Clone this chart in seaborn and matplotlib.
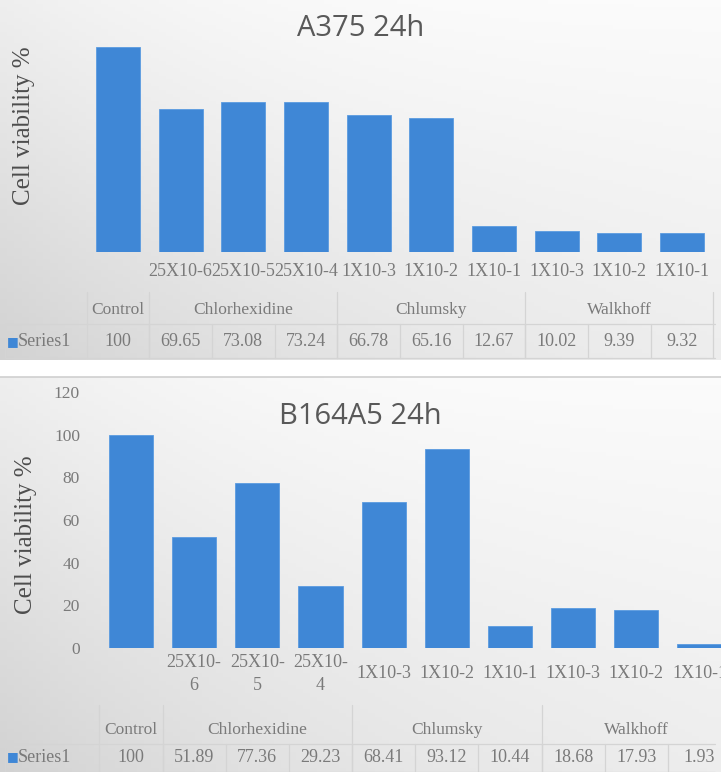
import numpy as np
import pandas as pd
import matplotlib
matplotlib.use("Agg")
import matplotlib.pyplot as plt
import matplotlib.transforms as mtrans
import seaborn as sns

sns.set_theme(style="white")
plt.rcParams['font.family'] = ['Liberation Serif', 'DejaVu Serif']

W, H = 721, 772

# data
groups = ["Control", "Chlorhexidine", "Chlumsky", "Walkhoff"]
group_cols = [(0, 0), (1, 3), (4, 6), (7, 9)]
doses_a375 = ["", "25X10-6", "25X10-5", "25X10-4", "1X10-3", "1X10-2", "1X10-1",
              "1X10-3", "1X10-2", "1X10-1"]
doses_b164 = ["", "25X10-\n6", "25X10-\n5", "25X10-\n4", "1X10-3", "1X10-2", "1X10-1",
              "1X10-3", "1X10-2", "1X10-1"]
viab_a375 = [100, 69.65, 73.08, 73.24, 66.78, 65.16, 12.67, 10.02, 9.39, 9.32]
viab_b164 = [100, 51.89, 77.36, 29.23, 68.41, 93.12, 10.44, 18.68, 17.93, 1.93]

BLUE = "#3f87d6"
GREY = "#7a7a7a"
LINE = "#d4d4d4"

fig = plt.figure(figsize=(W / 100, H / 100), dpi=100)
fig.patch.set_facecolor("white")


def box(x0, y0, x1, y1):
    return [x0 / W, 1 - y1 / H, (x1 - x0) / W, (y1 - y0) / H]


# background in pixel coordinates
bg = fig.add_axes([0, 0, 1, 1])
bg.set_xlim(0, W)
bg.set_ylim(H, 0)
bg.axis("off")


def shade(y0, y1):
    yy, xx = np.mgrid[0:1:100j, 0:1:100j]
    g = 0.985 - 0.11 * yy * (1 - 0.5 * xx) - 0.05 * (1 - xx) ** 3
    img = np.dstack([g, g, g])
    bg.imshow(img, extent=[0, W, y1, y0], aspect="auto", zorder=0)


shade(0, 360)
shade(377, 772)
bg.plot([0, W], [377, 377], color="#cfcfcf", lw=1.2)
bg.set_xlim(0, W)
bg.set_ylim(H, 0)


def panel(ax, values, doses, title, title_y, ylab_xy, xlim, ylim,
          cat_y, grp_y, val_y, grid_top, row_line, tbl_bottom):
    df = pd.DataFrame({"slot": [f"c{i}" for i in range(len(values))], "value": values})
    sns.barplot(data=df, x="slot", y="value", color=BLUE, saturation=1,
                width=0.7, ax=ax, edgecolor="#5b9be0", linewidth=0.6)
    ax.set_xlim(*xlim)
    ax.set_ylim(*ylim)
    ax.patch.set_alpha(0)
    ax.set_xlabel("")
    ax.set_ylabel("")
    ax.set_xticks([])
    sns.despine(ax=ax, left=True, bottom=True)

    tr = mtrans.blended_transform_factory(ax.transData, bg.transData)
    n = len(values)
    for i, d in enumerate(doses):
        ax.text(i, cat_y, d, transform=tr, ha="center", va="center",
                fontsize=13, color=GREY, linespacing=1.5)
    for name, (a, b) in zip(groups, group_cols):
        ax.text((a + b) / 2, grp_y, name, transform=tr, ha="center", va="center",
                fontsize=12.5, color=GREY)
    for i, v in enumerate(values):
        ax.text(i, val_y, f"{v:g}", transform=tr, ha="center", va="center",
                fontsize=13, color=GREY)
    # table lines
    for a, b in group_cols:
        ax.plot([a - 0.5, a - 0.5], [grid_top, tbl_bottom], transform=tr,
                color=LINE, lw=0.9, clip_on=False)
    ax.plot([n - 0.5, n - 0.5], [grid_top, tbl_bottom], transform=tr,
            color=LINE, lw=0.9, clip_on=False)
    for i in range(n - 1):
        ax.plot([i + 0.5, i + 0.5], [row_line, tbl_bottom], transform=tr,
                color=LINE, lw=0.9, clip_on=False)
    bg.plot([5, W - 6], [row_line, row_line], color=LINE, lw=0.9)
    bg.plot([5, W - 6], [tbl_bottom, tbl_bottom], color=LINE, lw=0.9)
    bg.plot([5, 5], [row_line, tbl_bottom], color=LINE, lw=0.9)

    # legend key
    bg.text(7, val_y, "\u25a0", ha="left", va="center", fontsize=9,
            color=BLUE, family=["DejaVu Sans"])
    bg.text(18, val_y, "Series1", ha="left", va="center", fontsize=13, color=GREY)

    # title drawn at figure level so it sits above the bars
    fig.text(0.5, 1 - title_y / H, title, ha="center", va="center", fontsize=21,
             color="#595959", family=["Open Sans", "DejaVu Sans"])
    bg.text(ylab_xy[0], ylab_xy[1], "Cell viability %", rotation=90,
            ha="center", va="center", fontsize=18, color="#4d4d4d")


# top panel: A375
ax1 = fig.add_axes(box(86.6, 36.75, 713.3, 252))
panel(ax1, viab_a375, doses_a375, "A375 24h", 29, (24, 126),
      (-0.5, 9.5), (0, 105), 271, 310, 342, 292, 324, 358)
ax1.set_yticks([])

# bottom panel: B164A5
ax2 = fig.add_axes(box(99.4, 392, 721, 648))
panel(ax2, viab_b164, doses_b164, "B164A5 24h", 417, (26, 535),
      (-0.5, 9.34), (0, 120), 674, 730, 757, 705, 744, 772)
ax2.set_yticks(np.arange(0, 121, 20))
ax2.tick_params(axis="y", length=0, pad=14, labelsize=12.5, labelcolor=GREY)

fig.savefig("out.png", dpi=100)
